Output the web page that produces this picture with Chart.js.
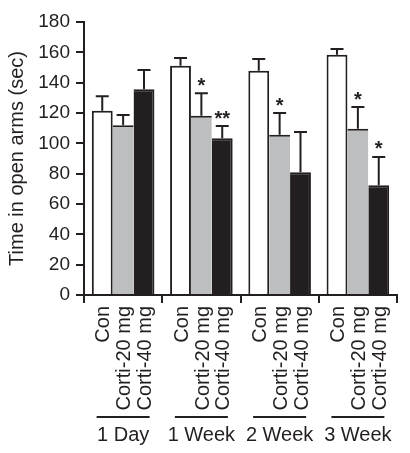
<!DOCTYPE html>
<html>
<head>
<meta charset="utf-8">
<script src="https://cdn.jsdelivr.net/npm/chart.js@4.4.1/dist/chart.umd.min.js"></script>
<style>
  html, body { margin: 0; padding: 0; background: #ffffff; }
  canvas { display: block; }
</style>
</head>
<body>
<canvas id="chart" width="410" height="453"></canvas>
<script>
// Groups along the x axis and the bars inside each group
var groupLabels = ['1 Day', '1 Week', '2 Week', '3 Week'];
var subLabels   = ['Con', 'Corti-20 mg', 'Corti-40 mg'];

// Mean time in open arms (sec)
var conValues     = [121.5, 151.2, 147.9, 158.4];
var corti20Values = [112.0, 118.2, 105.7, 109.6];
var corti40Values = [135.6, 103.3, 80.9, 72.3];

// Error (upper half only), sec
var conErr     = [9.5, 5.0, 7.7, 3.8];
var corti20Err = [6.7, 14.8, 14.3, 14.3];
var corti40Err = [12.7, 8.1, 26.5, 18.7];

// Significance marks over the bars
var conMarks     = ['', '', '', ''];
var corti20Marks = ['', '*', '*', '*'];
var corti40Marks = ['', '**', '', '*'];

var yTicks = [0, 20, 40, 60, 80, 100, 120, 140, 160, 180];

var ink = '#231f20';
var fontFamily = '"Liberation Sans", Arial, Helvetica, sans-serif';

var errors = [conErr, corti20Err, corti40Err];
var marks  = [conMarks, corti20Marks, corti40Marks];

// Error bars + stars on the bars, then the rotated bar names and group lines below the axis
var errorBarPlugin = {
    id: 'errorBars',
    afterDatasetsDraw: function(chart) {
        var ctx = chart.ctx;
        var yScale = chart.scales.y;
        ctx.save();
        ctx.strokeStyle = ink;
        ctx.fillStyle = ink;
        ctx.lineWidth = 2;
        for (let d = 0; d < chart.data.datasets.length; d++) {
            let meta = chart.getDatasetMeta(d);
            let values = chart.data.datasets[d].data;
            for (let i = 0; i < meta.data.length; i++) {
                let bar = meta.data[i];
                let top = yScale.getPixelForValue(values[i] + errors[d][i]);
                ctx.beginPath();
                ctx.moveTo(bar.x, bar.y);
                ctx.lineTo(bar.x, top);
                ctx.moveTo(bar.x - 6.5, top);
                ctx.lineTo(bar.x + 6.5, top);
                ctx.stroke();
                if (marks[d][i] !== '') {
                    ctx.font = 'bold 20px ' + fontFamily;
                    ctx.textAlign = 'center';
                    ctx.textBaseline = 'alphabetic';
                    ctx.fillText(marks[d][i], bar.x, top - 1.5);
                }
            }
        }
        ctx.restore();
    },
    afterDraw: function(chart) {
        var ctx = chart.ctx;
        var xScale = chart.scales.x;
        var groupAxis = chart.scales.xg;
        ctx.save();
        ctx.fillStyle = ink;
        ctx.font = '20px ' + fontFamily;
        ctx.textAlign = 'right';
        ctx.textBaseline = 'alphabetic';
        // bar names, reading upwards, ending just under the tick marks
        for (let d = 0; d < chart.data.datasets.length; d++) {
            let meta = chart.getDatasetMeta(d);
            for (let i = 0; i < meta.data.length; i++) {
                ctx.save();
                ctx.translate(meta.data[i].x + 7.2, xScale.top + 11);
                ctx.rotate(-Math.PI / 2);
                ctx.fillText(subLabels[d], 0, 0);
                ctx.restore();
            }
        }
        ctx.strokeStyle = ink;
        ctx.lineWidth = 2;
        for (let i = 0; i < groupLabels.length; i++) {
            let cx = xScale.getPixelForValue(i);
            let y = groupAxis.top + 1;
            ctx.beginPath();
            ctx.moveTo(cx - 26.5, y);
            ctx.lineTo(cx + 26.5, y);
            ctx.stroke();
        }
        ctx.restore();
    }
};

new Chart(document.getElementById('chart'), {
    type: 'bar',
    data: {
        labels: groupLabels,
        datasets: [
            {
                label: subLabels[0],
                data: conValues,
                backgroundColor: '#ffffff',
                borderColor: ink,
                borderWidth: {top: 2, left: 2, right: 2, bottom: 0}
            },
            {
                label: subLabels[1],
                data: corti20Values,
                backgroundColor: '#bcbec0',
                borderColor: ink,
                borderWidth: {top: 2, left: 0, right: 0, bottom: 0}
            },
            {
                label: subLabels[2],
                data: corti40Values,
                backgroundColor: ink,
                borderColor: ink,
                borderWidth: {top: 2, left: 0, right: 2, bottom: 0}
            }
        ]
    },
    options: {
        responsive: false,
        devicePixelRatio: 1,
        animation: false,
        events: [],
        layout: { padding: { top: 22, right: 13, bottom: 0, left: 1 } },
        datasets: {
            bar: { categoryPercentage: 0.8, barPercentage: 1.0, borderSkipped: 'bottom' }
        },
        plugins: {
            legend: { display: false },
            tooltip: { enabled: false }
        },
        scales: {
            y: {
                min: 0,
                max: 180,
                afterBuildTicks: function(axis) {
                    axis.ticks = yTicks.map(function(v) { return {value: v}; });
                },
                afterFit: function(axis) { axis.width = 83; },
                border: { display: true, color: ink, width: 2 },
                grid: { drawOnChartArea: false, color: ink, lineWidth: 2, tickLength: 8 },
                ticks: { color: ink, padding: 6, font: { size: 19, family: fontFamily } },
                title: {
                    display: true,
                    text: 'Time in open arms (sec)',
                    color: ink,
                    padding: { top: 4, bottom: 4 },
                    font: { size: 20, family: fontFamily }
                }
            },
            x: {
                position: 'bottom',
                weight: 0,
                offset: true,
                // room for the tick marks and the rotated bar names
                afterFit: function(axis) { axis.height = 121; },
                border: { display: true, color: ink, width: 2 },
                grid: { offset: true, drawOnChartArea: false, color: ink, lineWidth: 2, tickLength: 8 },
                ticks: { display: false }
            },
            xg: {
                type: 'category',
                labels: groupLabels,
                position: 'bottom',
                weight: 2,
                offset: true,
                afterFit: function(axis) { axis.height = 37; },
                border: { display: false },
                grid: { display: false, drawTicks: false },
                ticks: { padding: 7, color: ink, maxRotation: 0, autoSkip: false, font: { size: 20, family: fontFamily } }
            }
        }
    },
    plugins: [errorBarPlugin]
});
</script>
</body>
</html>
